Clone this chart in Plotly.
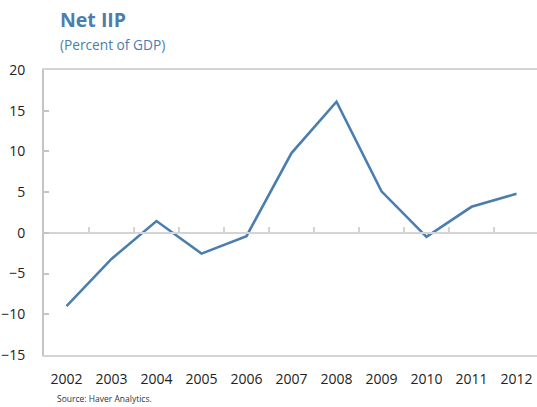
import plotly.graph_objects as go

years = [2002, 2003, 2004, 2005, 2006, 2007, 2008, 2009, 2010, 2011, 2012]
net_iip = [-9.0, -3.2, 1.45, -2.55, -0.4, 9.8, 16.1, 5.1, -0.5, 3.2, 4.8]
y_ticks = [-15, -10, -5, 0, 5, 10, 15, 20]
boundary_ticks = [2002.5, 2003.5, 2004.5, 2005.5, 2006.5, 2007.5, 2008.5, 2009.5, 2010.5, 2011.5]

W, H = 537, 407
ml, mr, mt, mb = 44, 0, 70, 52
pw = W - ml - mr
ph = H - mt - mb
xr = [2001.5, 2001.5 + pw / 45.0]

blue = "#4a7eaf"
font = "Open Sans, Segoe UI, sans-serif"


def py(y_px):
    return 1 - (y_px - mt) / ph


fig = go.Figure()
fig.add_trace(go.Scatter(x=years, y=net_iip, mode="lines",
                         line=dict(color=blue, width=2.6), hoverinfo="skip",
                         showlegend=False))
fig.add_trace(go.Scatter(x=[years[0]], y=[0], xaxis="x2", mode="markers",
                         marker=dict(opacity=0), showlegend=False, hoverinfo="skip"))

fig.update_layout(
    width=W, height=H,
    margin=dict(l=ml, r=mr, t=mt, b=mb, autoexpand=False),
    paper_bgcolor="white", plot_bgcolor="white",
    font=dict(family=font, size=14, color="#222222"),
    xaxis=dict(range=xr, tickvals=years, ticktext=[str(y) for y in years],
               showgrid=False, zeroline=False, showline=True, linecolor="#d4d4d4",
               linewidth=2, mirror=True, ticks="", ticklabelstandoff=10,
               automargin=False, fixedrange=True),
    xaxis2=dict(range=xr, overlaying="x", anchor="free", side="bottom",
                position=15 / 35, showline=True, linecolor="#d4d4d4", linewidth=1.5,
                tickvals=boundary_ticks, ticks="inside", ticklen=5, tickwidth=1.5,
                tickcolor="#d4d4d4", showticklabels=False, showgrid=False,
                zeroline=False, automargin=False),
    yaxis=dict(range=[-15, 20], tickvals=y_ticks, showgrid=False, zeroline=False,
               showline=True, linecolor="#c4c4c4", linewidth=2,
               ticks="inside", ticklen=5, tickwidth=1.5, tickcolor="#c4c4c4",
               ticklabelstandoff=14, automargin=False, fixedrange=True),
    annotations=[
        dict(text="<b>Net IIP</b>", xref="paper", yref="paper",
             x=(58 - ml) / pw, y=py(20), xanchor="left", yanchor="middle",
             showarrow=False, font=dict(family=font, size=19.5, color=blue)),
        dict(text="(Percent of GDP)", xref="paper", yref="paper",
             x=(58 - ml) / pw, y=py(45), xanchor="left", yanchor="middle",
             showarrow=False, font=dict(family=font, size=13.7, color=blue)),
        dict(text="Source: Haver Analytics.", xref="paper", yref="paper",
             x=(55 - ml) / pw, y=py(398), xanchor="left", yanchor="middle",
             showarrow=False, font=dict(family=font, size=8.5, color="#333333")),
    ],
)

fig.write_html(
    "out.html",
    config={"displayModeBar": False},
    post_script="document.body.style.margin='0';document.body.style.overflow='hidden';",
)
